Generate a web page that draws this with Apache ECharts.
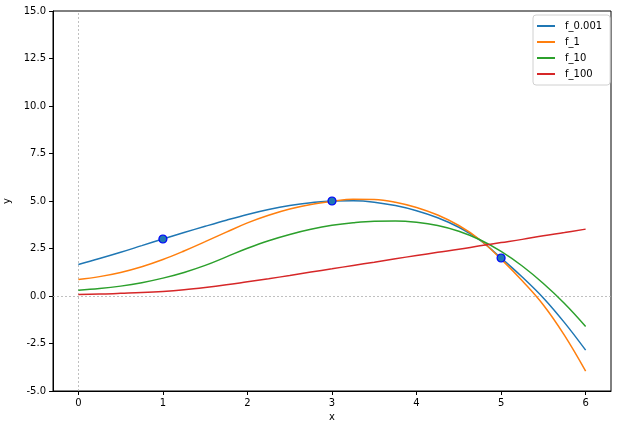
<!DOCTYPE html>
<html>
<head>
<meta charset="utf-8">
<script src="https://cdn.jsdelivr.net/npm/echarts@6/dist/echarts.min.js"></script>
<style>
html,body{margin:0;padding:0;background:#fff;}
#chart{width:617px;height:429px;}
</style>
</head>
<body>
<div id="chart"></div>
<script>
const xs      = [0, 0.25, 0.5, 0.75, 1, 1.25, 1.5, 1.75, 2, 2.25, 2.5, 2.75, 3, 3.25, 3.5, 3.75, 4, 4.25, 4.5, 4.75, 5, 5.25, 5.5, 5.75, 6];
const f_0_001 = [1.66, 1.97, 2.30, 2.65, 3.0, 3.34, 3.67, 3.99, 4.29, 4.55, 4.76, 4.91, 5.0, 5.01, 4.94, 4.76, 4.49, 4.12, 3.62, 2.94, 2.0, 1.0, -0.10, -1.40, -2.85];
const f_1     = [0.87, 1.02, 1.24, 1.54, 1.92, 2.37, 2.86, 3.36, 3.85, 4.25, 4.58, 4.82, 4.98, 5.09, 5.08, 4.94, 4.66, 4.26, 3.71, 2.96, 1.94, 0.80, -0.47, -2.07, -3.95];
const f_10    = [0.30, 0.39, 0.52, 0.70, 0.94, 1.24, 1.61, 2.06, 2.51, 2.91, 3.24, 3.51, 3.72, 3.86, 3.94, 3.95, 3.88, 3.71, 3.41, 2.96, 2.35, 1.58, 0.66, -0.39, -1.60];
const f_100   = [0.08, 0.10, 0.14, 0.18, 0.24, 0.33, 0.45, 0.59, 0.75, 0.91, 1.08, 1.26, 1.43, 1.61, 1.78, 1.96, 2.13, 2.30, 2.46, 2.64, 2.81, 2.98, 3.17, 3.34, 3.52];
const ptsX    = [1, 3, 5];
const ptsY    = [3, 5, 2];
const xTicks  = [0, 1, 2, 3, 4, 5, 6];
const seriesNames = ['f_0.001', 'f_1', 'f_10', 'f_100'];
const seriesVals  = [f_0_001, f_1, f_10, f_100];
const colors = ['#1f77b4', '#ff7f0e', '#2ca02c', '#d62728'];

const font = 'DejaVu Sans';
const chart = echarts.init(document.getElementById('chart'));

const lineSeries = seriesNames.map((name, k) => ({
  name: name,
  type: 'line',
  smooth: 0.4,
  showSymbol: false,
  symbol: 'none',
  color: colors[k],
  lineStyle: {width: 1.5, color: colors[k]},
  data: xs.map((x, i) => [x, seriesVals[k][i]]),
  z: 3,
  animation: false
}));
lineSeries[0].markLine = {
  silent: true,
  symbol: 'none',
  label: {show: false},
  lineStyle: {color: '#b0b0b0', type: [2, 2], width: 0.8, opacity: 1},
  emphasis: {disabled: true},
  data: [{xAxis: 0}, {yAxis: 0}],
  z: 1,
  animation: false
};

chart.setOption({
  animation: false,
  grid: {left: 53, top: 11, right: 6, bottom: 38, show: true, borderColor: '#000', borderWidth: 1, containLabel: false, outerBoundsMode: 'none'},
  legend: {
    data: seriesNames,
    orient: 'vertical',
    left: 533,
    top: 15,
    padding: [4, 8, 4, 4],
    itemGap: 2,
    itemWidth: 18,
    itemHeight: 2,
    icon: 'rect',
    borderColor: '#d0d0d0',
    borderWidth: 1,
    borderRadius: 3,
    textStyle: {fontFamily: font, fontSize: 10, color: '#000', lineHeight: 14, padding: [0, 0, 0, 5]}
  },
  xAxis: {
    type: 'value',
    min: -0.3,
    max: 6.3,
    name: 'x',
    nameLocation: 'middle',
    nameGap: 21,
    nameTextStyle: {fontFamily: font, fontSize: 10, color: '#000'},
    splitLine: {show: false},
    axisLine: {show: true, onZero: false, lineStyle: {color: '#000', width: 1}},
    axisTick: {show: true, inside: false, length: 4, lineStyle: {color: '#000'}, customValues: xTicks},
    axisLabel: {fontFamily: font, fontSize: 10, color: '#000', margin: 7, customValues: xTicks, formatter: v => String(v)}
  },
  yAxis: {
    type: 'value',
    min: -5,
    max: 15,
    interval: 2.5,
    name: 'y',
    nameLocation: 'middle',
    nameGap: 38,
    nameTextStyle: {fontFamily: font, fontSize: 10, color: '#000'},
    splitLine: {show: false},
    axisLine: {show: true, onZero: false, lineStyle: {color: '#000', width: 1}},
    axisTick: {show: true, inside: false, length: 4, lineStyle: {color: '#000'}},
    axisLabel: {fontFamily: font, fontSize: 10, color: '#000', margin: 7, formatter: v => v.toFixed(1)}
  },
  series: lineSeries.concat([{
    name: 'points',
    type: 'scatter',
    symbol: 'circle',
    symbolSize: 8,
    itemStyle: {color: '#1f77b4', borderColor: '#0000ff', borderWidth: 1.2, opacity: 1},
    data: ptsX.map((x, i) => [x, ptsY[i]]),
    z: 5,
    animation: false
  }])
});
</script>
</body>
</html>
